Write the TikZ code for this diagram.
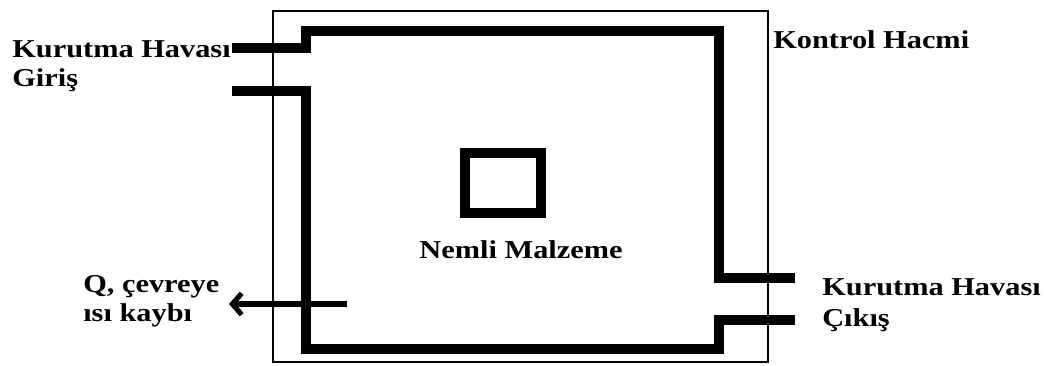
\documentclass[tikz,border=0pt]{standalone}
\usepackage{fontspec}
\setmainfont{Liberation Serif}[FakeStretch=1.18]
\usetikzlibrary{arrows.meta, positioning}

\begin{document}
\begin{tikzpicture}[x=0.75pt, y=-0.75pt,
    lbl/.style={inner sep=0pt, anchor=base west, font=\fontsize{19.3}{23}\selectfont\bfseries},
    wall/.style={line width=7pt},
    cvline/.style={line width=1.1pt}]
  \useasboundingbox (0,0) rectangle (1044,365);
  % kontrol hacmi
  \draw[cvline] (273,11) rectangle (768,362);
  % kanal duvarlari
  \draw[wall] (232,48) -- (306,48) -- (306,31) -- (719,31) -- (719,278) -- (795,278);
  \draw[wall] (232,91) -- (306,91) -- (306,349) -- (719,349) -- (719,320) -- (795,320);
  % malzeme
  \draw[line width=7.5pt] (465,153) rectangle (541,213);
  \node[lbl, anchor=base] (nemli) at (521,258) {Nemli Malzeme};
  % etiketler
  \node[lbl] (giris1) at (12,57) {Kurutma Havası};
  \node[lbl] (giris2) at (12,86) {Giriş};
  \node[lbl] (khacim) at (773,48) {Kontrol Hacmi};
  \node[lbl] (cikis1) at (822,295) {Kurutma Havası};
  \node[lbl] (cikis2) at (822,326) {Çıkış};
  \node[lbl] (q1) at (83,292) {Q, çevreye};
  \node[lbl] (q2) at (83,321) {ısı kaybı};
  % isi kaybi oku
  \coordinate (qbas) at (347,304);
  \coordinate (quc) at (229,304);
  \draw[line width=3.8pt, -{Straight Barb[length=7pt, width=16pt]}] (qbas) -- (quc);
\end{tikzpicture}
\end{document}
